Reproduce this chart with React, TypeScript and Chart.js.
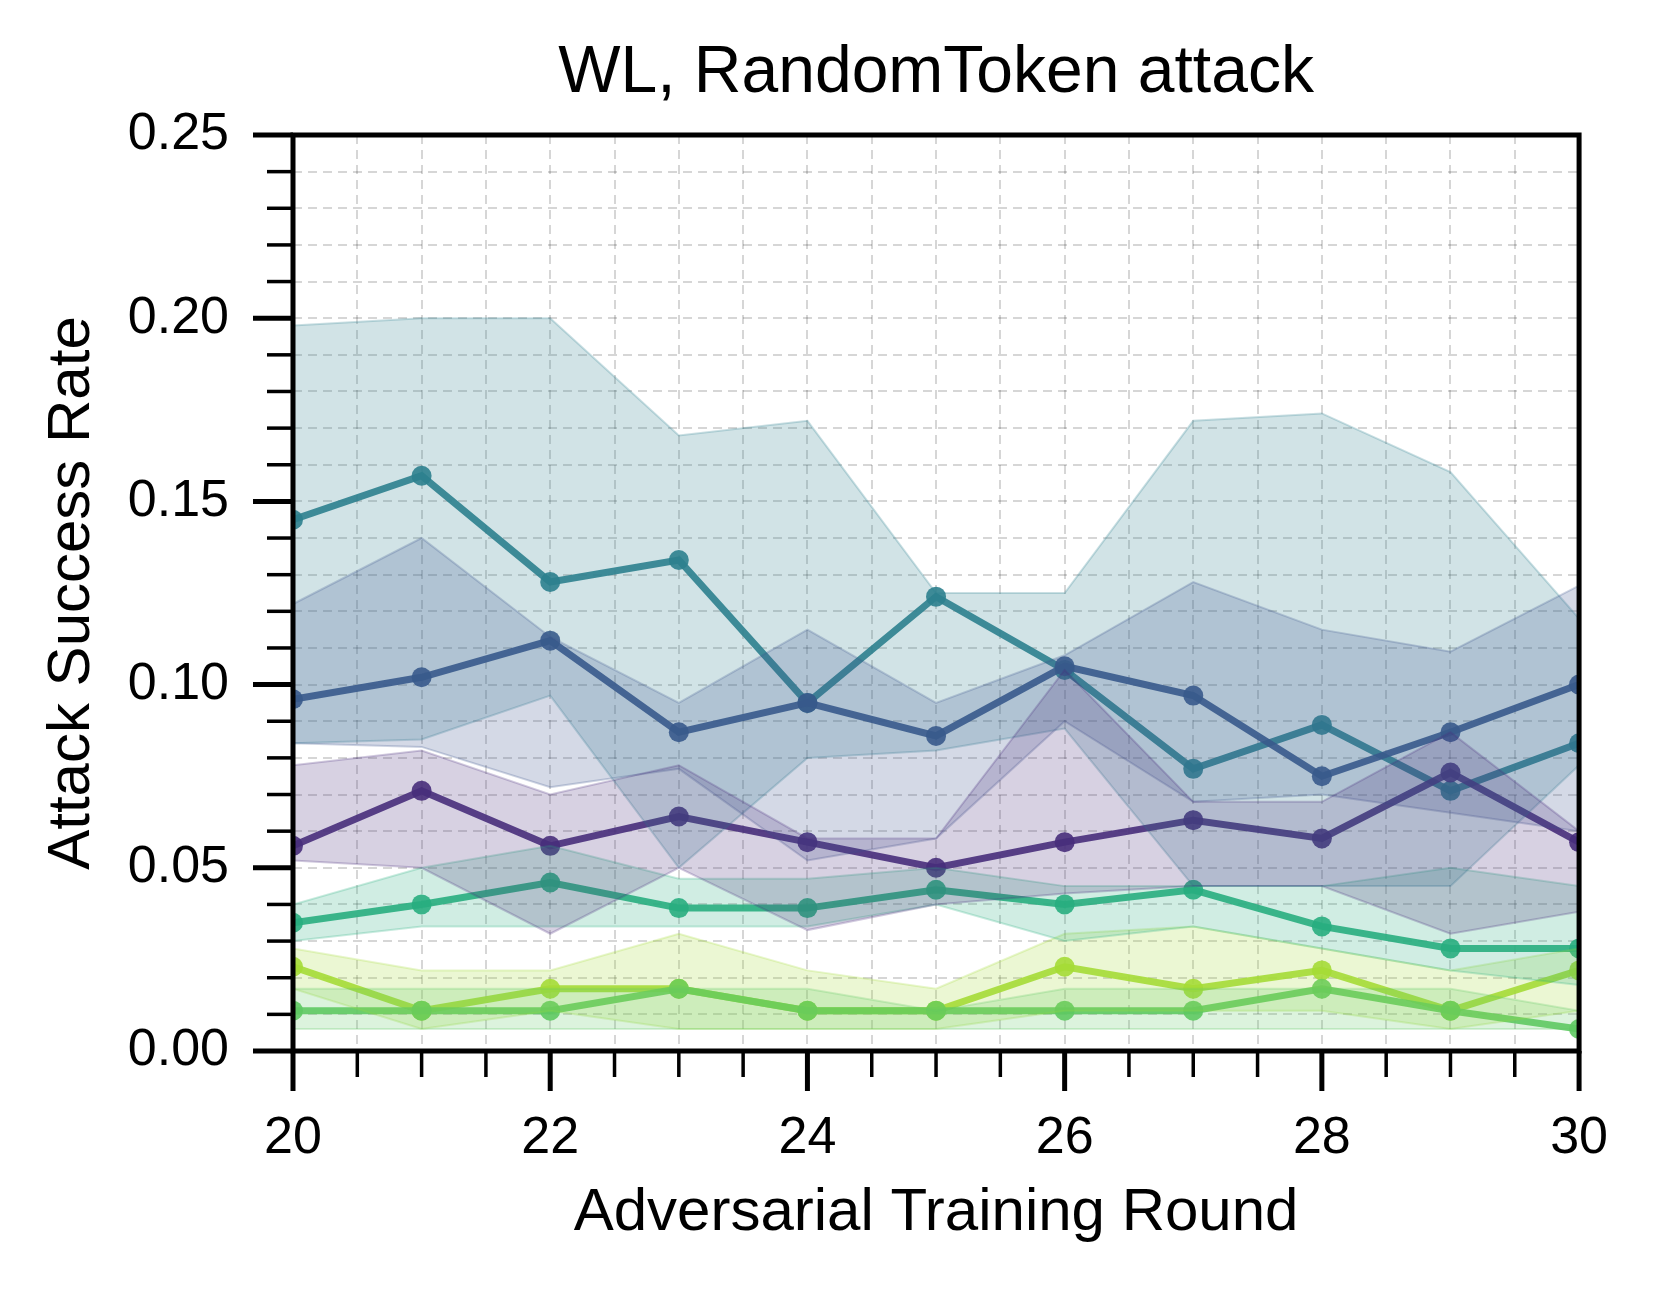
import { useEffect, useRef } from "react"
import { Chart, registerables } from "chart.js"

Chart.register(...registerables)

const rounds = [20, 21, 22, 23, 24, 25, 26, 27, 28, 29, 30]

const seriesColors = ["#472d7b", "#3b528b", "#2c818e", "#28ae80", "#5ec962", "#a5db36"]

const purpleMean = [0.056, 0.071, 0.056, 0.064, 0.057, 0.050, 0.057, 0.063, 0.058, 0.076, 0.057]
const purpleUpper = [0.078, 0.082, 0.070, 0.078, 0.058, 0.058, 0.104, 0.068, 0.068, 0.087, 0.060]
const purpleLower = [0.052, 0.050, 0.032, 0.050, 0.033, 0.040, 0.043, 0.045, 0.045, 0.032, 0.038]

const blueMean = [0.096, 0.102, 0.112, 0.087, 0.095, 0.086, 0.105, 0.097, 0.075, 0.087, 0.100]
const blueUpper = [0.122, 0.140, 0.113, 0.095, 0.115, 0.095, 0.108, 0.128, 0.115, 0.109, 0.127]
const blueLower = [0.084, 0.083, 0.072, 0.077, 0.052, 0.058, 0.090, 0.068, 0.070, 0.065, 0.060]

const tealMean = [0.145, 0.157, 0.128, 0.134, 0.095, 0.124, 0.104, 0.077, 0.089, 0.071, 0.084]
const tealUpper = [0.198, 0.200, 0.200, 0.168, 0.172, 0.125, 0.125, 0.172, 0.174, 0.158, 0.118]
const tealLower = [0.084, 0.085, 0.097, 0.050, 0.080, 0.082, 0.088, 0.045, 0.045, 0.045, 0.078]

const greenTealMean = [0.035, 0.040, 0.046, 0.039, 0.039, 0.044, 0.040, 0.044, 0.034, 0.028, 0.028]
const greenTealUpper = [0.040, 0.050, 0.056, 0.047, 0.047, 0.050, 0.045, 0.045, 0.045, 0.050, 0.045]
const greenTealLower = [0.030, 0.034, 0.034, 0.034, 0.034, 0.040, 0.030, 0.034, 0.028, 0.022, 0.018]

const greenMean = [0.011, 0.011, 0.011, 0.017, 0.011, 0.011, 0.011, 0.011, 0.017, 0.011, 0.006]
const greenUpper = [0.017, 0.017, 0.017, 0.017, 0.017, 0.011, 0.017, 0.017, 0.017, 0.017, 0.011]
const greenLower = [0.006, 0.006, 0.006, 0.006, 0.006, 0.006, 0.006, 0.006, 0.006, 0.006, 0.006]

const limeMean = [0.023, 0.011, 0.017, 0.017, 0.011, 0.011, 0.023, 0.017, 0.022, 0.011, 0.022]
const limeUpper = [0.028, 0.022, 0.022, 0.032, 0.022, 0.017, 0.032, 0.034, 0.028, 0.022, 0.028]
const limeLower = [0.017, 0.006, 0.011, 0.006, 0.006, 0.006, 0.011, 0.011, 0.011, 0.006, 0.011]

const groups = [
  [purpleMean, purpleUpper, purpleLower],
  [blueMean, blueUpper, blueLower],
  [tealMean, tealUpper, tealLower],
  [greenTealMean, greenTealUpper, greenTealLower],
  [greenMean, greenUpper, greenLower],
  [limeMean, limeUpper, limeLower],
]

const FONT = "'Liberation Sans', Arial, sans-serif"

function alpha(hex: string, a: number) {
  const n = parseInt(hex.slice(1), 16)
  return `rgba(${(n >> 16) & 255}, ${(n >> 8) & 255}, ${n & 255}, ${a})`
}

const decorPlugin = {
  id: "decor",
  afterDraw(chart: any) {
    const { ctx, chartArea: a, scales } = chart
    const x = scales.x
    const y = scales.y
    ctx.save()
    ctx.strokeStyle = "#000"
    ctx.lineWidth = 5
    ctx.strokeRect(a.left, a.top, a.right - a.left, a.bottom - a.top)
    for (let v = 20; v <= 30.001; v += 0.5) {
      const px = x.getPixelForValue(v)
      const major = Math.abs(v % 2) < 0.01
      ctx.lineWidth = major ? 5 : 3.5
      ctx.beginPath()
      ctx.moveTo(px, a.bottom)
      ctx.lineTo(px, a.bottom + (major ? 40 : 26))
      ctx.stroke()
    }
    for (let i = 0; i <= 25; i++) {
      const py = y.getPixelForValue(i * 0.01)
      const major = i % 5 === 0
      ctx.lineWidth = major ? 5 : 3.5
      ctx.beginPath()
      ctx.moveTo(a.left, py)
      ctx.lineTo(a.left - (major ? 40 : 26), py)
      ctx.stroke()
    }
    ctx.fillStyle = "#000"
    ctx.textAlign = "center"
    ctx.textBaseline = "middle"
    ctx.font = `66px ${FONT}`
    ctx.fillText("WL, RandomToken attack", (a.left + a.right) / 2, 74)
    ctx.font = `60px ${FONT}`
    ctx.fillText("Adversarial Training Round", (a.left + a.right) / 2, 1213)
    ctx.translate(72, (a.top + a.bottom) / 2)
    ctx.rotate(-Math.PI / 2)
    ctx.fillText("Attack Success Rate", 0, 0)
    ctx.restore()
  },
}

export default function App() {
  const chartRef = useRef<HTMLCanvasElement>(null)
  const chartInstance = useRef<Chart | null>(null)

  useEffect(() => {
    if (!chartRef.current) return
    const ctx = chartRef.current.getContext("2d")
    if (!ctx) return
    if (chartInstance.current) chartInstance.current.destroy()

    const datasets: any[] = []
    groups.forEach(([, upper, lower], i) => {
      const c = seriesColors[i]
      datasets.push({
        data: rounds.map((r, k) => ({ x: r, y: lower[k] })),
        borderColor: alpha(c, 0.25),
        borderWidth: 2,
        pointRadius: 0,
        fill: false,
      })
      datasets.push({
        data: rounds.map((r, k) => ({ x: r, y: upper[k] })),
        borderColor: alpha(c, 0.25),
        borderWidth: 2,
        pointRadius: 0,
        backgroundColor: alpha(c, 0.22),
        fill: "-1",
      })
    })
    groups.forEach(([mean], i) => {
      const c = seriesColors[i]
      datasets.push({
        data: rounds.map((r, k) => ({ x: r, y: mean[k] })),
        borderColor: alpha(c, 0.9),
        backgroundColor: alpha(c, 0.9),
        borderWidth: 7,
        pointRadius: 10,
        pointBorderWidth: 0,
        fill: false,
      })
    })

    chartInstance.current = new Chart(ctx, {
      type: "line",
      data: { datasets },
      plugins: [decorPlugin],
      options: {
        animation: false,
        responsive: false,
        layout: { padding: { top: 135, right: 77, left: 0, bottom: 0 } },
        plugins: { legend: { display: false }, title: { display: false }, tooltip: { enabled: false } },
        scales: {
          x: {
            type: "linear",
            min: 20,
            max: 30,
            afterFit: (s: any) => { s.height = 241 },
            afterBuildTicks: (s: any) => {
              s.ticks = []
              for (let v = 20; v <= 30.001; v += 0.5) s.ticks.push({ value: v })
            },
            ticks: {
              font: { family: FONT, size: 52 },
              color: "#000",
              padding: 56,
              maxRotation: 0,
              autoSkip: false,
              callback: (v: any) => (Math.abs(Number(v) % 2) < 0.01 ? String(v) : ""),
            },
            grid: { color: "rgba(0,0,0,0.16)", lineWidth: 2, drawTicks: false },
            border: { display: false, dash: [9, 6] },
          },
          y: {
            min: 0,
            max: 0.25,
            afterFit: (s: any) => { s.width = 293 },
            afterBuildTicks: (s: any) => {
              s.ticks = []
              for (let i = 0; i <= 25; i++) s.ticks.push({ value: i * 0.01 })
            },
            ticks: {
              font: { family: FONT, size: 52 },
              color: "#000",
              padding: 64,
              autoSkip: false,
              callback: (v: any) => {
                const i = Math.round(Number(v) * 100)
                return i % 5 === 0 ? (i / 100).toFixed(2) : ""
              },
            },
            grid: { color: "rgba(0,0,0,0.16)", lineWidth: 2, drawTicks: false },
            border: { display: false, dash: [9, 6] },
          },
        },
      },
    })

    return () => {
      if (chartInstance.current) {
        chartInstance.current.destroy()
        chartInstance.current = null
      }
    }
  }, [])

  return (
    <div style={{ position: "fixed", left: 0, top: 0, width: 1664, height: 1292, background: "#fff" }}>
      <canvas ref={chartRef} width={1664} height={1292} style={{ width: 1664, height: 1292 }} />
    </div>
  )
}
